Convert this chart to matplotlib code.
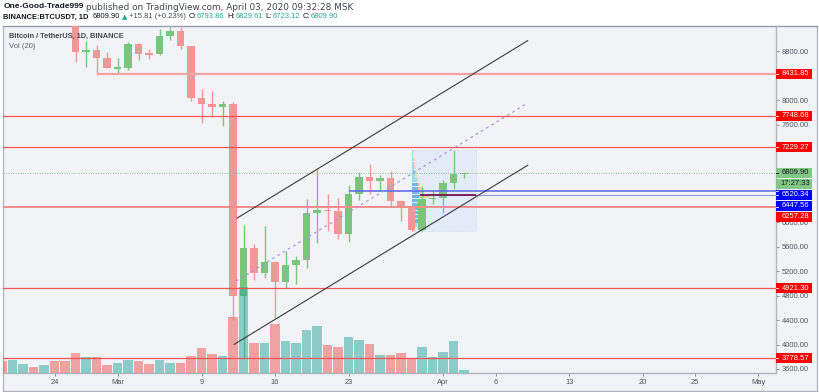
import matplotlib
matplotlib.use("Agg")
import matplotlib.pyplot as plt
import matplotlib.dates as mdates
from matplotlib.patches import Rectangle
import numpy as np
import pandas as pd

plt.rcParams['font.family'] = ['Liberation Sans', 'DejaVu Sans']

# ---------------- data ----------------
dates = pd.date_range("2020-02-19", "2020-04-03", freq="D")
opens = [10180, 9596, 9608, 9686, 9663, 9925, 9650, 9316, 8785, 8823, 8692,
         8523, 8532, 8915, 8760, 8750, 9051, 9125, 8892, 8030, 7930, 7895, 7935, 4790, 5575, 5170,
         5358, 5018, 5307, 5390, 6157, 6206, 6190, 5812, 6462, 6741, 6675, 6731, 6355, 6232, 5877, 6386,
         6403, 6642, 6793.86]
highs = [10250, 9675, 9782, 9698, 9990, 10000, 9655, 9390, 8969, 8900, 8789,
         8690, 8960, 8930, 8833, 9161, 9194, 9194, 8892, 8181, 8148, 7979, 7966, 5950, 5640, 5935,
         5365, 5526, 5455, 6386, 6879, 6457, 6403, 6605, 6823, 6949, 6774, 6835, 6372, 6268, 6578, 6522,
         6687, 7191, 6829.61]
lows = [9582, 9400, 9570, 9575, 9650, 9480, 9250, 8625, 8547, 8420, 8525,
        8422, 8500, 8657, 8673, 8740, 8990, 8833, 7990, 7627, 7726, 7573, 4400, 3782, 5056, 5085,
        4442, 4918, 4990, 5247, 5657, 5854, 5723, 5674, 6358, 6468, 6511, 6249, 6020, 5866, 5857, 6304,
        6150, 6539, 6723.12]
closes = [9596, 9608, 9686, 9663, 9925, 9650, 9316, 8785, 8823, 8692, 8523,
          8532, 8915, 8760, 8750, 9051, 9125, 8892, 8030, 7930, 7895, 7935, 4790, 5575, 5170, 5358,
          5018, 5307, 5390, 6157, 6206, 6190, 5812, 6462, 6741, 6675, 6731, 6355, 6232, 5877, 6386, 6403,
          6642, 6794, 6809.90]
volumes = [36.5, 39.5, 27.4, 16.4, 24.3, 36.5, 35.6, 60.8, 47.7, 46.8, 24.3,
           29.5, 39.5, 36.5, 25.5, 38.6, 29.5, 30.4, 51.7, 76.0, 56.8, 51.7, 170.2, 261.5, 89.4, 91.2,
           148.0, 97.3, 89.4, 129.8, 142.9, 84.2, 77.2, 107.6, 98.5, 86.3, 53.8, 53.8, 60.8, 40.7, 77.2, 47.7,
           62.9, 97.3, 9.1]

red_levels = [7748.68, 7229.27, 4921.30, 3778.57]
ray_level = 8431.85
ray_start = "2020-02-28"
soft_red_level = 6257.28
last_price = 6809.90
countdown = "17:27:33"
blue_level = 6520.34
blue_start = "2020-03-23"
poc_level = 6447.56

channel_upper = [("2020-03-12 09:20", 6071), ("2020-04-09 01:10", 8974)]
channel_lower = [("2020-03-12 02:20", 4003), ("2020-04-09 01:10", 6934)]
channel_mid = [("2020-03-12 06:00", 5037), ("2020-04-09 01:10", 7954)]

vp_start, vp_end = "2020-03-29", "2020-04-04 02:00"
vp_up = [2, 4, 5, 5, 5, 5, 6, 6, 6, 6, 5, 5, 4, 3, 2.5, 2, 1.5, 1.5, 1, 1]
vp_down = [1, 1.5, 2, 2, 3, 3, 4, 6, 8, 4, 3, 2, 2, 1.5, 1.5, 1.5, 1, 1, 0.5, 0.5]

yticks = list(range(3600, 9000, 400))
xtick_dates = ["2020-02-24", "2020-03-01", "2020-03-09", "2020-03-16", "2020-03-23", "2020-04-01",
               "2020-04-06", "2020-04-13", "2020-04-20", "2020-04-25", "2020-05-01"]
xtick_labels = ["24", "Mar", "9", "16", "23", "Apr", "6", "13", "20", "25", "May"]

header_user = "One-Good-Trade999"
header_rest = "published on TradingView.com, April 03, 2020 09:32:28 MSK"
symbol = "BINANCE:BTCUSDT, 1D"
change = "+15.81 (+0.23%)"
ohlc_now = [("O:", "6793.86"), ("H:", "6829.61"), ("L:", "6723.12"), ("C:", "6809.90")]

# ---------------- figure ----------------
W, H = 820, 392
fig = plt.figure(figsize=(W / 100, H / 100), dpi=100, facecolor="white")


def fx(px):
    return px / W


def fy(py):
    return 1 - py / H


PL, PR, PT, PB = 3, 776, 26, 372.7
BG = "#f2f3f7"
GRID = "#b2b5be"
TXT = "#4c525e"

frame = fig.add_axes([fx(3), fy(391), fx(817 - 3), (391 - 26) / H])
frame.set_facecolor(BG)
frame.set_xticks([]); frame.set_yticks([])
for s in frame.spines.values():
    s.set_color(GRID); s.set_linewidth(1)
frame.spines["top"].set_color("#9a9da6")
frame.set_zorder(0)

ax = fig.add_axes([fx(PL), fy(PB), fx(PR - PL), (PB - PT) / H])
ax.set_facecolor("none")
ax.set_zorder(1)
x0 = mdates.date2num(pd.Timestamp("2020-03-01"))
XL = (x0 - 10.92, x0 + 62.70)
YL = (3539, 9214)
ax.set_autoscale_on(False)
ax.set_xlim(*XL)
ax.set_ylim(*YL)
for k in ("top", "left"):
    ax.spines[k].set_visible(False)
for k in ("right", "bottom"):
    ax.spines[k].set_color(GRID); ax.spines[k].set_linewidth(1)

xs = mdates.date2num(dates)
o = np.array(opens); h = np.array(highs); l = np.array(lows); c = np.array(closes)
up = c >= o
UPC, DNC = "#7ac47d", "#f09898"
col = np.where(up, UPC, DNC)

# candles
ax.vlines(xs, l, h, colors=col, lw=1.0, zorder=3)
mind = 22
body_h = np.maximum(np.abs(c - o), mind)
body_b = (o + c) / 2 - body_h / 2
ax.bar(xs, body_h, bottom=body_b, width=0.7, color=col, lw=0, zorder=3.2)

# volume overlay
VMAX = 1054
vcol = [(0.149, 0.651, 0.604, 0.5) if u else (0.937, 0.325, 0.314, 0.5) for u in up]
ax.bar(xs, np.array(volumes) / VMAX, bottom=0, width=0.92, color=vcol, lw=0,
       transform=ax.get_xaxis_transform(), zorder=4)

# horizontal levels
ax.hlines(ray_level, mdates.date2num(pd.Timestamp(ray_start)), XL[1], color="#f4a3a3", lw=1.6, zorder=5)
for lv in red_levels:
    ax.axhline(lv, color="#f25555", lw=0.9, zorder=5)
ax.axhline(soft_red_level, color="#f58c8c", lw=1.4, zorder=5)
ax.axhline(last_price, color="#7cc47f", lw=0.7, ls=(0, (1, 1.5)), zorder=5)
ax.hlines(blue_level, mdates.date2num(pd.Timestamp(blue_start)), XL[1], color="#5567f5", lw=1.1, zorder=5)
vs, ve = mdates.date2num(pd.Timestamp(vp_start)), mdates.date2num(pd.Timestamp(vp_end))
ax.hlines(poc_level, vs, XL[1], color="#8e9bd0", lw=0.8, zorder=5)

# volume profile (fixed range)
sel = xs >= vs
lo, hi = l[sel].min(), h[sel].max()
ax.add_patch(Rectangle((vs, lo), ve - vs, hi - lo, facecolor=(0.13, 0.59, 0.95, 0.07),
                       edgecolor=(0.13, 0.59, 0.95, 0.25), lw=0.6, ls=":", zorder=2))
n = len(vp_up)
rowh = (hi - lo) / n
centers = lo + rowh * (np.arange(n) + 0.5)
tot = np.array(vp_up) + np.array(vp_down)
scale = 0.27 * (ve - vs) / tot.max()
order = np.argsort(-tot)
va_rows = set()
acc = 0
for i in order:
    va_rows.add(i); acc += tot[i]
    if acc >= 0.7 * tot.sum():
        break
ua = [0.6 if i in va_rows else 0.28 for i in range(n)]
upw = np.array(vp_up) * scale
dnw = np.array(vp_down) * scale
ax.barh(centers, upw, left=vs, height=rowh * 0.82, color=[(0.13, 0.59, 0.95, a) for a in ua], lw=0, zorder=2.5)
ax.barh(centers, dnw, left=vs + upw, height=rowh * 0.82, color=[(0.98, 0.75, 0.18, a) for a in ua], lw=0, zorder=2.5)
ax.hlines(poc_level, vs + 0.8, ve, color="#7a1450", lw=1.3, zorder=5.5)

# channel
def seg(pts):
    return [mdates.date2num(pd.Timestamp(p[0])) for p in pts], [p[1] for p in pts]

ax.plot(*seg(channel_upper), color="#3a3a3a", lw=0.8, zorder=6)
ax.plot(*seg(channel_lower), color="#3a3a3a", lw=0.8, zorder=6)
ax.plot(*seg(channel_mid), color="#a88be0", lw=0.8, ls=(0, (2.5, 3)), zorder=6)

# price labels on right scale (stacked to avoid overlap)
ppx = (YL[1] - YL[0]) / (PB - PT)
labels = [
    (ray_level, f"{ray_level:.2f}", "#ff0000", "white"),
    (red_levels[0], f"{red_levels[0]:.2f}", "#ff0000", "white"),
    (red_levels[1], f"{red_levels[1]:.2f}", "#ff0000", "white"),
    (last_price, f"{last_price:.2f}", "#82c785", "#131722"),
    (last_price - 0.01, countdown, "#82c785", "#131722"),
    (blue_level, f"{blue_level:.2f}", "#0000ff", "white"),
    (poc_level, f"{poc_level:.2f}", "#0000ff", "white"),
    (soft_red_level, f"{soft_red_level:.2f}", "#ff0000", "white"),
    (red_levels[2], f"{red_levels[2]:.2f}", "#ff0000", "white"),
    (red_levels[3], f"{red_levels[3]:.2f}", "#ff0000", "white"),
]
labels.sort(key=lambda t: -t[0])
prev = None
gap = 11 * ppx
bh = 10 * ppx
placed = []
for p, s, fc, tc in labels:
    yc = p if prev is None else min(p, prev - gap)
    prev = yc
    placed.append((p, yc, s, fc, tc))

# axes ticks (labels fully hidden behind a price label are left blank)
ax.yaxis.tick_right()
ax.set_yticks(yticks)
ylab = []
for v in yticks:
    covered = any(abs(v - yc) < 4.2 * ppx for _, yc, _, _, _ in placed)
    ylab.append("" if covered else f"{v:.2f}")
ax.set_yticklabels(ylab)
ax.tick_params(axis="y", direction="out", length=2.5, width=0.6, color="#787b86",
               labelsize=5.4, labelcolor=TXT, pad=1.5)
ax.set_xticks(mdates.date2num(pd.to_datetime(xtick_dates)))
ax.set_xticklabels(xtick_labels)
ax.tick_params(axis="x", direction="out", length=2, width=0.6, color="#787b86",
               labelsize=5.4, labelcolor=TXT, pad=2.5)

# chart titles inside
tx = (9.3 - PL) / (PR - PL)
ax.text(tx, 1 - (36 - PT) / (PB - PT), "Bitcoin / TetherUS, 1D, BINANCE",
        transform=ax.transAxes, fontsize=5.3, fontweight="bold", color="#434651",
        va="center", ha="left", zorder=10)
ax.text(tx, 1 - (46.7 - PT) / (PB - PT), "Vol (20)",
        transform=ax.transAxes, fontsize=5.5, color="#5d606b", va="center", ha="left", zorder=10)

ax_r = fig.add_axes([fx(PR), fy(PB), fx(41), (PB - PT) / H], sharey=ax)
ax_r.set_zorder(5)
ax_r.set_facecolor("none")
ax_r.set_xlim(0, 41)
ax_r.axis("off")
for p, yc, s, fc, tc in placed:
    ax_r.add_patch(Rectangle((0, yc - bh / 2), 36, bh, facecolor=fc, edgecolor="none", zorder=6, clip_on=False))
    ax_r.plot([0, 2.5], [p, p], color=tc, lw=0.6, zorder=7, clip_on=False)
    ax_r.text(19.5, yc, s, ha="center", va="center", fontsize=5.5, color=tc, zorder=7, clip_on=False)

# header
renderer = fig.canvas.get_renderer()


def runs(parts, x_px, y_px):
    x = x_px
    for s, w, colr, g, fam, size in parts:
        x += g
        t = fig.text(x / W, fy(y_px), s, fontsize=size, fontweight=w, color=colr,
                     family=fam, ha="left", va="center")
        bb = t.get_window_extent(renderer)
        x = bb.x1


DARK = "#131722"
MID = "#434651"
TEAL = "#26a69a"
REG = ["Liberation Sans", "DejaVu Sans"]
WIDE = ["DejaVu Sans"]
runs([(header_user, "bold", DARK, 0, REG, 6.0),
      (header_rest, "normal", MID, 2.5, WIDE, 6.4)], 3.3, 7)
parts = [(symbol, "bold", DARK, 0, REG, 5.4),
         (f"{last_price:.2f}", "normal", DARK, 3.5, REG, 5.5),
         ("\u25B2", "normal", TEAL, 2, ["DejaVu Sans"], 5.0),
         (change, "normal", MID, 2, REG, 5.5)]
for k, v in ohlc_now:
    parts.append((k, "normal", DARK, 3, REG, 5.5))
    parts.append((v, "normal", TEAL, 0, REG, 5.5))
runs(parts, 3.3, 17)

fig.savefig("out.png", dpi=100, facecolor=fig.get_facecolor())
